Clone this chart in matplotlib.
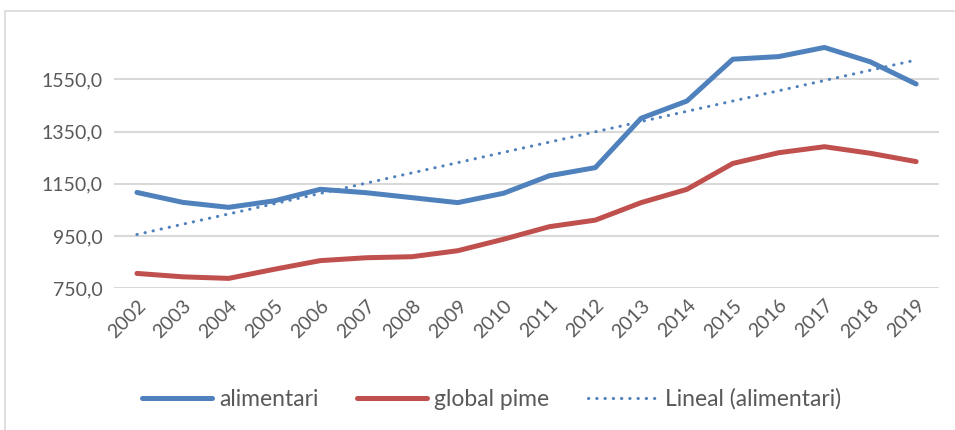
import matplotlib.pyplot as plt
import numpy as np
from matplotlib.patches import Rectangle

years = ['2002', '2003', '2004', '2005', '2006', '2007', '2008', '2009', '2010',
         '2011', '2012', '2013', '2014', '2015', '2016', '2017', '2018', '2019']
alimentari = [1117, 1079, 1060, 1085, 1129, 1116, 1097, 1078, 1114,
              1181, 1212, 1401, 1467, 1627, 1637, 1672, 1617, 1532]
global_pime = [807, 794, 788, 823, 856, 867, 871, 894, 938,
               986, 1011, 1078, 1129, 1228, 1269, 1292, 1267, 1235]
y_ticks = [750, 950, 1150, 1350, 1550]

plt.rcParams['font.family'] = ['Lato', 'DejaVu Sans']

fig = plt.figure(figsize=(9.55, 4.3), dpi=100)
ax = fig.add_axes([0.1194, 0.3295, 0.8639, 0.5893])

# chart border
fig.patches.append(Rectangle((4.5 / 955, -0.1), 1.2, 1.1 - 11 / 430,
                             transform=fig.transFigure, fill=False,
                             edgecolor='#D9D9D9', linewidth=1.2))

x = np.arange(len(years))
ax.plot(x, alimentari, color='#4F81BD', linewidth=3.6, solid_capstyle='round',
        solid_joinstyle='round', label='alimentari', zorder=3)
ax.plot(x, global_pime, color='#C0504D', linewidth=3.6, solid_capstyle='round',
        solid_joinstyle='round', label='global pime', zorder=3)

# linear trendline
k, b = np.polyfit(x, alimentari, 1)
ax.plot(x, k * x + b, color='#4F81BD', linewidth=2.2, linestyle=(0, (0.1, 2.6)),
        dash_capstyle='round', label='Lineal (alimentari)', zorder=4)

ax.set_xlim(-0.5, len(years) - 0.5)
ax.set_ylim(750, 1720)
ax.set_yticks(y_ticks)
ax.set_yticklabels([f'{v},0' for v in y_ticks])
ax.set_xticks(x)
ax.set_xticklabels(years, rotation=45, ha='right', rotation_mode='anchor')
ax.grid(axis='y', color='#D9D9D9', linewidth=1.5)
ax.set_axisbelow(True)
for s in ax.spines.values():
    s.set_visible(False)
ax.tick_params(length=0, labelsize=14, colors='#595959', pad=8)
ax.tick_params(axis='x', pad=6)

fig.legend(loc='center', bbox_to_anchor=(0.5147, 0.072), ncol=3, frameon=False,
           fontsize=16.5, labelcolor='#595959', handlelength=3.05,
           handletextpad=0.3, columnspacing=1.7)

fig.savefig('out.png', dpi=100)
